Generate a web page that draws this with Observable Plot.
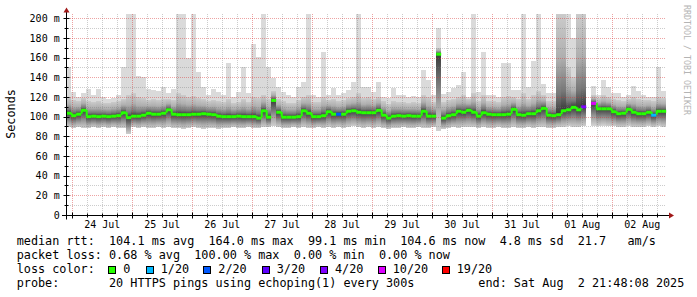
<!DOCTYPE html>
<html>
<head>
<meta charset="utf-8">
<script src="https://cdn.jsdelivr.net/npm/d3@7"></script>
<script src="https://cdn.jsdelivr.net/npm/@observablehq/plot@0.6"></script>
<style>
  html, body { margin: 0; padding: 0; background: #fff; }
  body { width: 697px; height: 297px; overflow: hidden; position: relative; font-family: "DejaVu Sans Mono", monospace; }
  #chart svg { display: block; }
  .lg { position: absolute; font-size: 11.8px; line-height: 14px; white-space: pre; color: #000; }
  .sq { position: absolute; width: 6px; height: 6px; border: 1px solid #000; }
</style>
</head>
<body>
<div id="chart"></div>
<div id="legend"></div>
<script>
// ---------- data ----------
const startTime = "2025-07-23T21:48:08Z";
const endTime = "2025-08-02T21:48:08Z";
const stepHours = 2;

// median rtt (ms) per 2-hour step, null = 100% loss
const median = [
  104, 101.5, 103, 107, 100.5, 101, 100.5, 101, 100.5, 101,
  101.5, 104.5, 99.5, 101, 101, 102, 104, 103, 103, 104,
  107.5, 103, 102.5, 102.5, 102.5, 103, 103, 103.5, 103, 102.5,
  101, 100.5, 100.5, 100.5, 101, 100.5, 100.5, 100.5, 99, 106.5,
  100, 117, 105, 100, 100, 100, 100.5, 106.5, 104, 100.5,
  100.5, 101.5, 105.5, 103, 103, 103, 106, 106.5, 105, 104.5,
  104.5, 104.5, 107, 102, 99, 101, 101.5, 101, 101.5, 101,
  101, 106, 101, 101, 164, 99, 101.5, 102.5, 106, 105,
  107, 105, 101, 104.5, 103, 102.5, 102.5, 102.5, 103, 108,
  102.5, 102, 103.5, 103.5, 106.5, 109, 102, 101.5, 102.5, 106.5,
  107.5, 110, 107.5, 110.5, null, 114, 108.5, 108.5, 108.5, 105.5,
  103.5, 104, 108, 105, 103.5, 103.5, 105, 102, 106, 106
];
// lowest ping of each step (ms)
const smokeMin = [
  89, 88, 89, 88, 88, 89, 88, 89, 88, 89,
  88, 88, 82, 89, 88, 89, 88, 88, 89, 88,
  89, 88, 88, 87, 88, 89, 88, 87, 88, 88,
  87, 88, 88, 89, 88, 88, 89, 88, 88, 89,
  89, 90, 89, 88, 88, 89, 88, 89, 88, 88,
  89, 88, 89, 88, 89, 88, 89, 90, 89, 88,
  89, 88, 89, 88, 87, 88, 88, 89, 88, 88,
  89, 88, 88, 89, 85, 87, 88, 89, 88, 89,
  89, 89, 88, 89, 88, 88, 89, 88, 88, 89,
  88, 88, 89, 88, 89, 89, 88, 88, 89, 89,
  90, 89, 89, 90, null, 91, 90, 91, 90, 90,
  89, 89, 90, 89, 89, 89, 90, 89, 90, 89
];
// upper edge of the dense smoke (ms)
const smokeHigh = [
  120, 117, 116, 119, 116, 115, 116, 114, 114, 115,
  116, 118, 122, 124, 120, 119, 117, 118, 117, 118,
  118, 117, 124, 122, 120, 121, 119, 118, 116, 117,
  116, 115, 118, 114, 115, 118, 115, 120, 119, 122,
  118, 126, 118, 116, 114, 114, 117, 120, 122, 115,
  115, 120, 117, 118, 116, 117, 119, 120, 124, 119,
  120, 118, 120, 116, 113, 116, 115, 115, 114, 115,
  114, 122, 120, 115, 170, 115, 117, 118, 120, 122,
  118, 124, 116, 122, 116, 116, 115, 120, 121, 120,
  118, 124, 118, 122, 126, 122, 116, 116, 204, 204,
  150, 140, 204, 204, null, 122, 119, 122, 120, 118,
  117, 116, 118, 120, 118, 117, 117, 116, 120, 119
];
// highest ping of each step (ms)
const smokeMax = [
  150, 125, 120, 124, 128, 122, 128, 120, 118, 119,
  122, 150, 204, 204, 141, 140, 128, 127, 126, 130,
  124, 128, 204, 204, 160, 204, 145, 130, 122, 128,
  125, 122, 155, 120, 125, 150, 124, 174, 161, 204,
  150, 139, 130, 125, 122, 120, 130, 135, 204, 122,
  120, 166, 122, 129, 122, 124, 127, 135, 204, 130,
  130, 125, 135, 120, 119, 129, 122, 122, 120, 121,
  120, 147, 137, 122, 190, 123, 125, 129, 132, 145,
  120, 204, 125, 166, 122, 122, 120, 155, 155, 127,
  127, 204, 130, 157, 204, 133, 124, 124, 204, 204,
  204, 180, 204, 204, null, 131, 122, 137, 130, 124,
  124, 120, 122, 131, 126, 122, 120, 120, 150, 126
];
// steps with packet loss
const lossStep = [54, 103, 105, 117];
const lossLevel = ["2/20", "4/20", "10/20", "1/20"];

const lossNames = ["0", "1/20", "2/20", "3/20", "4/20", "10/20", "19/20"];
const lossColors = ["#26ff00", "#00b8ff", "#0059ff", "#5e00ff", "#7e00ff", "#dd00ff", "#ff0000"];

const dayStarts = ["2025-07-24", "2025-07-25", "2025-07-26", "2025-07-27", "2025-07-28",
                   "2025-07-29", "2025-07-30", "2025-07-31", "2025-08-01", "2025-08-02"];
const dayLabels = ["24 Jul", "25 Jul", "26 Jul", "27 Jul", "28 Jul",
                   "29 Jul", "30 Jul", "31 Jul", "01 Aug", "02 Aug"];
const yMajor = [0, 20, 40, 60, 80, 100, 120, 140, 160, 180, 200];
const yLabels = ["0", "20 m", "40 m", "60 m", "80 m", "100 m", "120 m", "140 m", "160 m", "180 m", "200 m"];
const yMinor = [10, 30, 50, 70, 90, 110, 130, 150, 170, 190];

const legendLines = [
  "median rtt:  104.1 ms avg  164.0 ms max  99.1 ms min  104.6 ms now  4.8 ms sd  21.7   am/s",
  "packet loss: 0.68 % avg  100.00 % max  0.00 % min  0.00 % now",
  "loss color:",
  "probe:       20 HTTPS pings using echoping(1) every 300s         end: Sat Aug  2 21:48:08 2025"
];

// ---------- layout ----------
const W = 697, H = 232;
const ML = 66.2, MR = 30.8, MT = 14, MB = 17;
const YTOP = 204.4;
const FONT = "DejaVu Sans Mono";

// ---------- build ----------
const t0 = new Date(startTime), tEnd = new Date(endTime);
const STEP = stepHours * 3600 * 1000;
const rows = median.map((m, i) => ({
  i, t1: new Date(+t0 + i * STEP), t2: new Date(+t0 + (i + 1) * STEP),
  med: m, lo: smokeMin[i], hi: smokeHigh[i], max: smokeMax[i]
}));
const valid = rows.filter(d => d.med != null);
const medRows = valid.map(d => ({...d, color: lossColors[0]}));
lossStep.forEach((s, k) => {
  const r = medRows.find(d => d.i === s);
  if (r) r.color = lossColors[lossNames.indexOf(lossLevel[k])];
});
// short connectors between neighbouring medians (only small steps, like the smoothed median band)
const risers = [];
for (let i = 1; i < rows.length; i++) {
  const a = rows[i - 1], b = rows[i];
  if (a.med != null && b.med != null && Math.abs(b.med - a.med) <= 8 && a.med !== b.med)
    risers.push({t: b.t1, y1: a.med, y2: b.med});
}
const days = dayStarts.map(s => new Date(s + "T00:00:00Z"));
const noons = dayStarts.map(s => new Date(s + "T12:00:00Z"));
const minorX = d3.utcHour.every(6).range(t0, tEnd).filter(d => d.getUTCHours() !== 0);

const plot = Plot.plot({
  width: W, height: H,
  marginLeft: ML, marginRight: MR, marginTop: MT, marginBottom: MB,
  x: {type: "utc", domain: [t0, tEnd], axis: null},
  y: {domain: [0, YTOP], axis: null},
  color: {type: "identity"},
  style: {background: "#fff", color: "#000", overflow: "visible"},
  marks: [
    Plot.rect(valid, {x1: "t1", x2: "t2", y1: "lo", y2: "max", fill: "#dadada", shapeRendering: "crispEdges"}),
    Plot.rect(valid, {x1: "t1", x2: "t2", y1: "lo", y2: "hi", fill: d => `url(#smoke${d.i})`, shapeRendering: "crispEdges"}),
    Plot.ruleY(yMinor, {stroke: "rgba(120,120,120,0.38)", strokeDasharray: "1,1", shapeRendering: "crispEdges"}),
    Plot.ruleX(minorX, {stroke: "rgba(120,120,120,0.38)", strokeDasharray: "1,1", shapeRendering: "crispEdges"}),
    Plot.ruleY(yMajor.slice(1), {stroke: "rgba(215,50,50,0.45)", strokeDasharray: "1,1", shapeRendering: "crispEdges"}),
    Plot.ruleX(days, {stroke: "rgba(215,50,50,0.45)", strokeDasharray: "1,1", shapeRendering: "crispEdges"}),
    Plot.ruleX(risers, {x: "t", y1: "y1", y2: "y2", stroke: lossColors[0], strokeWidth: 2}),
    Plot.ruleY(medRows, {y: "med", x1: "t1", x2: "t2", stroke: "color", strokeWidth: 3, strokeLinecap: "butt"}),
    Plot.text(yMajor, {y: d => d, text: (d, i) => yLabels[i], frameAnchor: "left", textAnchor: "end", dx: -7,
      fontFamily: FONT, fontSize: 10, fill: "#000"}),
    Plot.text(noons, {x: d => d, text: (d, i) => dayLabels[i], frameAnchor: "bottom", lineAnchor: "middle", dy: 9,
      fontFamily: FONT, fontSize: 10, fill: "#000"})
  ]
});

// smoke gradients (dark at the median)
const svg = d3.select(plot);
const defs = svg.insert("defs", ":first-child");
valid.forEach(d => {
  const f = Math.max(0.04, Math.min(0.96, (d.hi - d.med) / (d.hi - d.lo)));
  const g = defs.append("linearGradient").attr("id", "smoke" + d.i)
    .attr("x1", 0).attr("y1", 0).attr("x2", 0).attr("y2", 1);
  [[0, "#cbcbcb"], [f * 0.45, "#afafaf"], [f * 0.8, "#777"], [f, "#3a3a3a"],
   [f + (1 - f) * 0.3, "#696969"], [f + (1 - f) * 0.65, "#a3a3a3"], [1, "#d2d2d2"]]
    .forEach(([o, c]) => g.append("stop").attr("offset", o).attr("stop-color", c));
});

// axes, ticks, arrows (decoration)
const xs = d3.scaleUtc([t0, tEnd], [ML, W - MR]);
const ys = d3.scaleLinear([0, YTOP], [H - MB, MT]);
const deco = svg.append("g");
const y0 = Math.round(ys(0)) + 0.5, xa = Math.round(ML) + 0.5;
yMinor.forEach(v => deco.append("line").attr("x1", xa - 2).attr("x2", xa + 2)
  .attr("y1", Math.round(ys(v)) + 0.5).attr("y2", Math.round(ys(v)) + 0.5).attr("stroke", "#000"));
yMajor.forEach(v => deco.append("line").attr("x1", xa - 3).attr("x2", xa + 3)
  .attr("y1", Math.round(ys(v)) + 0.5).attr("y2", Math.round(ys(v)) + 0.5).attr("stroke", "#000"));
minorX.forEach(v => deco.append("line").attr("y1", y0 - 2).attr("y2", y0 + 2)
  .attr("x1", Math.round(xs(v)) + 0.5).attr("x2", Math.round(xs(v)) + 0.5).attr("stroke", "#000"));
days.forEach(v => deco.append("line").attr("y1", y0 - 3).attr("y2", y0 + 3)
  .attr("x1", Math.round(xs(v)) + 0.5).attr("x2", Math.round(xs(v)) + 0.5).attr("stroke", "#000"));
deco.append("line").attr("x1", xa).attr("x2", xa).attr("y1", y0 + 4).attr("y2", 12).attr("stroke", "#000");
deco.append("line").attr("x1", 62).attr("x2", 670).attr("y1", y0).attr("y2", y0).attr("stroke", "#000");
deco.append("path").attr("d", `M${xa - 3},12.5 L${xa},7.5 L${xa + 3},12.5 Z`).attr("fill", "#a01818");
deco.append("path").attr("d", `M669,${y0 - 3} L674,${y0} L669,${y0 + 3} Z`).attr("fill", "#a01818");
deco.append("text").text("Seconds")
  .attr("transform", "translate(15,114) rotate(-90)")
  .attr("text-anchor", "middle").attr("font-family", FONT).attr("font-size", 11.8).attr("fill", "#000");
deco.append("text").text("RRDTOOL / TOBI OETIKER")
  .attr("transform", "translate(684,5) rotate(90)")
  .attr("text-anchor", "start").attr("font-family", FONT).attr("font-size", 8.3).attr("fill", "#b4b4b4");

document.getElementById("chart").appendChild(plot);

// legend
const lg = document.getElementById("legend");
const LTOP = 234, LH = 14.1, LX = 16.7;
legendLines.forEach((s, k) => {
  const div = document.createElement("div");
  div.className = "lg";
  div.style.left = LX + "px";
  div.style.top = (LTOP + k * LH) + "px";
  div.textContent = s;
  lg.appendChild(div);
});
const squareX = [108.3, 145.7, 203.3, 261.7, 320, 377.7, 441.7];
lossNames.forEach((n, k) => {
  const sq = document.createElement("div");
  sq.className = "sq";
  sq.style.left = squareX[k] + "px";
  sq.style.top = "265.5px";
  sq.style.background = lossColors[k];
  lg.appendChild(sq);
  const t = document.createElement("div");
  t.className = "lg";
  t.style.left = (squareX[k] + 15) + "px";
  t.style.top = (LTOP + 2 * LH) + "px";
  t.textContent = n;
  lg.appendChild(t);
});
</script>
</body>
</html>
